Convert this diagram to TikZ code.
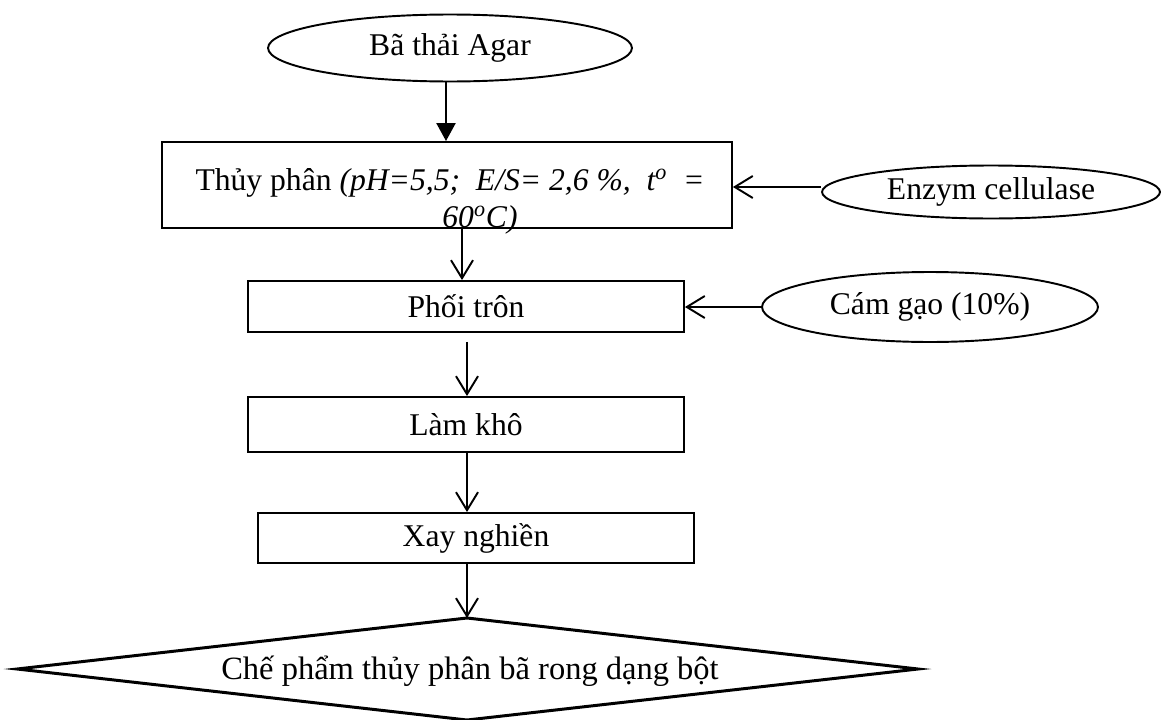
\documentclass[tikz,border=0pt]{standalone}
\usepackage{fontspec}
\setmainfont{Liberation Serif}
\usetikzlibrary{arrows.meta,shapes.geometric}
\begin{document}
\begin{tikzpicture}[x=0.02cm,y=-0.02cm,
  txt/.style={font=\fontsize{18}{21}\selectfont},
  box/.style={draw, line width=1.1pt, rectangle, inner sep=0pt, txt},
  oval/.style={draw, line width=1.1pt, ellipse, inner sep=0pt, txt},
  flow/.style={line width=1.1pt, -{Straight Barb[length=0.36cm,width=0.44cm,line width=1.1pt]}},
  solidflow/.style={line width=1.3pt, -{Triangle[length=0.36cm,width=0.38cm]}},
  diam/.style={draw, line width=1.7pt, line join=miter}
]
\useasboundingbox (0,0) rectangle (1163,720);

\node[oval, minimum width=7.28cm, minimum height=1.34cm] (top) at (450,48) {Bã thải Agar};

\node[box, minimum width=11.4cm, minimum height=1.72cm] (b1) at (447,185) {};
\node[txt, align=center, inner sep=0pt] (b1t) at (450,201)
  {\fontsize{18}{14.5}\selectfont Thủy phân \textit{(pH=5,5;\ \ E/S= 2,6 \%,\ \ t\textsuperscript{o}\ \ =}\\
   \hspace*{1.2cm}\textit{60\textsuperscript{o}C)}};

\node[oval, minimum width=6.76cm, minimum height=1.06cm] (enz) at (991,192) {Enzym cellulase};

\node[box, minimum width=8.72cm, minimum height=1.02cm] (b2) at (466,306.5) {Phối trôn};
\node[oval, minimum width=6.72cm, minimum height=1.4cm] (cam) at (930,307) {Cám gạo (10\%)};

\node[box, minimum width=8.72cm, minimum height=1.1cm] (b3) at (466,424.5) {Làm khô};
\node[box, minimum width=8.72cm, minimum height=1.0cm] (b4) at (476,538) {Xay nghiền};

\coordinate (fintop) at (467,618);
\draw[diam] (17,669) -- (fintop) -- (918,669) -- (467,720) -- cycle;
\node[txt, inner sep=0pt] (fin) at (470,671) {\fontsize{18.5}{21}\selectfont Chế phẩm thủy phân bã rong dạng bột};

\draw[solidflow] (top.south -| 446,0) -- (b1.north -| 446,0);
\draw[flow] (enz.west |- 0,187) -- (b1.east |- 0,187);
\draw[flow] (b1.south -| 462,0) -- (b2.north -| 462,0);
\draw[flow] (cam.west) -- (cam.west -| b2.east);
\draw[flow, shorten <=5pt] (b2.south -| 467,0) -- (b3.north -| 467,0);
\draw[flow] (b3.south -| 467,0) -- (b4.north -| 467,0);
\draw[flow] (b4.south -| 467,0) -- (fintop);
\end{tikzpicture}
\end{document}
